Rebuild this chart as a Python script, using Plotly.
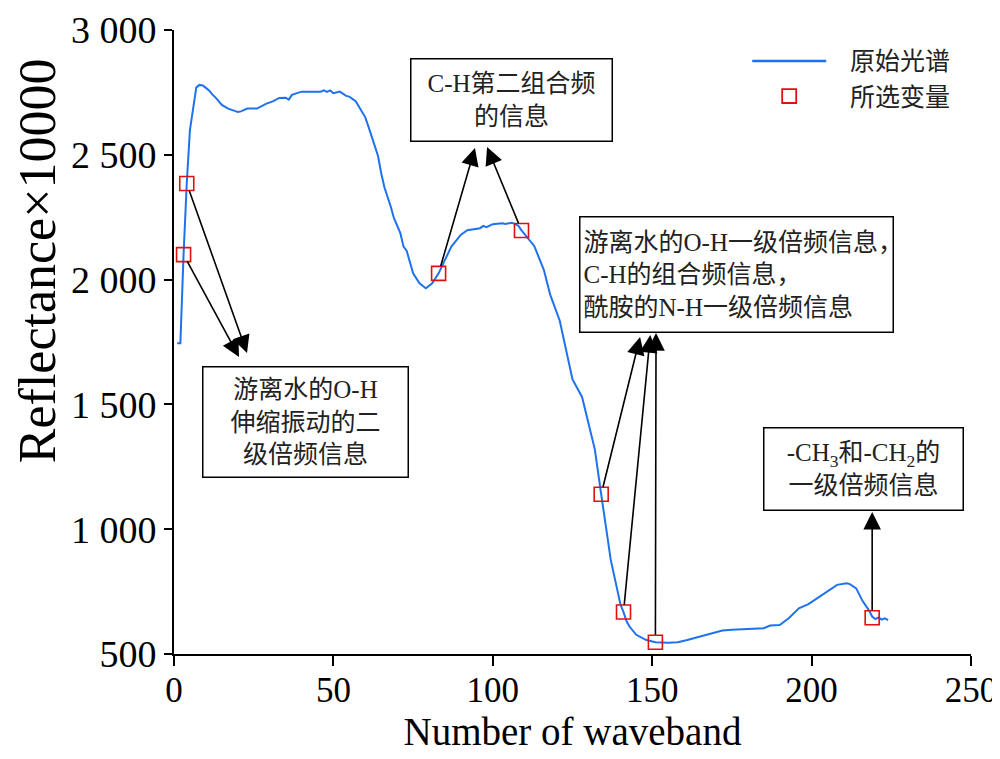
import plotly.graph_objects as go

# ---- data ----
waveband = [1, 2, 3, 4, 5, 6, 7, 8, 9, 10, 11, 12, 13, 15, 17, 19, 20, 21, 22, 23, 26, 29, 31, 33, 35, 36, 37, 40,
            46, 47, 48, 49, 50, 52, 54, 55, 57, 59, 60, 61, 62, 64, 65, 66, 68, 69, 71, 72, 73, 74, 75, 77, 79,
            81, 83, 85, 87, 90, 92, 96, 97, 98, 100, 103, 104, 106, 108, 109, 111, 113, 116, 118, 121, 123, 125,
            128, 130, 132, 134, 136, 137, 139, 140, 141, 142, 143, 145, 148, 151, 155, 158, 161, 165, 168, 172,
            175, 179, 185, 187, 190, 193, 196, 199, 201, 205, 208, 211, 212, 214, 216, 218, 219, 220, 221, 222,
            223, 224]
reflectance = [1745, 1745, 2100, 2385, 2600, 2695, 2770, 2780, 2778, 2768, 2758, 2742, 2730, 2700, 2685, 2676,
               2672, 2674, 2680, 2685, 2685, 2705, 2714, 2728, 2729, 2721, 2740, 2753, 2753, 2758, 2752, 2758,
               2747, 2753, 2736, 2733, 2715, 2670, 2650, 2613, 2575, 2495, 2426, 2370, 2292, 2246, 2186, 2132,
               2115, 2070, 2025, 1985, 1965, 1985, 2025, 2079, 2132, 2180, 2198, 2206, 2215, 2210, 2222, 2226,
               2223, 2228, 2216, 2197, 2168, 2135, 2039, 1940, 1835, 1720, 1600, 1530, 1420, 1320, 1140, 960,
               877, 760, 700, 668, 630, 608, 577, 557, 547, 545, 547, 556, 570, 579, 594, 597, 599, 603, 614,
               616, 645, 683, 700, 717, 753, 777, 783, 780, 763, 712, 675, 650, 640, 647, 638, 643, 636]

selected_band = [3, 4, 83, 109, 134, 141, 151, 219]
selected_value = [2100, 2385, 2025, 2197, 1140, 668, 547, 645]

y_tickvals = [500, 1000, 1500, 2000, 2500, 3000]
y_ticktext = ["500", "1 000", "1 500", "2 000", "2 500", "3 000"]
x_tickvals = [0, 50, 100, 150, 200, 250]

# arrow tips (data coords) for each selected variable, same order as selected_band
arrow_tip_x = [20.4, 22.9, 94.4, 98.2, 146.2, 149.4, 151.2, 219]
arrow_tip_y = [1690, 1706, 2527, 2531, 1770, 1778, 1786, 1069]

legend_names = ["原始光谱", "所选变量"]

FONT = "Liberation Serif, Times New Roman, Noto Sans CJK SC, serif"
LINE_COLOR = "#1f72ee"
MARK_COLOR = "#e01010"

fig = go.Figure()
fig.add_trace(go.Scatter(
    x=waveband, y=reflectance, mode="lines", name=legend_names[0],
    line=dict(color=LINE_COLOR, width=2), showlegend=False,
))
fig.add_trace(go.Scatter(
    x=selected_band, y=selected_value, mode="markers", name=legend_names[1], showlegend=False,
    marker=dict(symbol="square-open", size=14, color=MARK_COLOR, line=dict(width=1.6, color=MARK_COLOR)),
))

annotations = []
for sx, sy, tx, ty in zip(selected_band, selected_value, arrow_tip_x, arrow_tip_y):
    annotations.append(dict(
        x=tx, y=ty, ax=sx, ay=sy, xref="x", yref="y", axref="x", ayref="y",
        text="", showarrow=True, arrowhead=2, arrowsize=2.2, arrowwidth=1.6,
        arrowcolor="black", startstandoff=6, standoff=0,
    ))

box_style = dict(showarrow=False, xref="x", yref="y", bordercolor="black", borderwidth=1.5,
                 bgcolor="white", borderpad=3, font=dict(family=FONT, size=25, color="#222"))
annotations += [
    dict(x=41.4, y=1428, text="游离水的O-H<br>伸缩振动的二<br>级倍频信息",
         width=198, height=103, align="center", **box_style),
    dict(x=105.9, y=2720, text="C-H第二组合频<br>的信息",
         width=194, height=75, align="center", **box_style),
    dict(x=176.3, y=2020, text="游离水的O-H一级倍频信息，<br>C-H的组合频信息，<br>酰胺的N-H一级倍频信息",
         width=306, height=108, align="left", **box_style),
    dict(x=216.2, y=1240, text="-CH<sub>3</sub>和-CH<sub>2</sub>的<br>一级倍频信息",
         width=192, height=75, align="center", **box_style),
]

# legend (drawn to match the reference's long line sample)
annotations += [
    dict(x=0.8458, y=0.9503, xref="paper", yref="paper", text=legend_names[0], showarrow=False,
         xanchor="left", yanchor="middle", font=dict(family=FONT, size=25, color="#222")),
    dict(x=0.8458, y=0.8926, xref="paper", yref="paper", text=legend_names[1], showarrow=False,
         xanchor="left", yanchor="middle", font=dict(family=FONT, size=25, color="#222")),
    # y-axis title (placed like the reference, above centre)
    dict(x=-0.172, y=0.631, xref="paper", yref="paper", text="Reflectance×10000", showarrow=False,
         textangle=-90, xanchor="center", yanchor="middle", font=dict(family=FONT, size=52, color="black")),
]
shapes = [
    dict(type="line", xref="paper", yref="paper", x0=0.7255, x1=0.8184, y0=0.9503, y1=0.9503,
         line=dict(color=LINE_COLOR, width=2.5)),
    dict(type="rect", xref="paper", yref="paper", x0=0.7719 - 0.0088, x1=0.7719 + 0.0088,
         y0=0.8942 - 0.0112, y1=0.8942 + 0.0112, line=dict(color=MARK_COLOR, width=1.8)),
]

fig.update_layout(
    width=992, height=751,
    margin=dict(l=166, r=29, t=22, b=105),
    paper_bgcolor="white", plot_bgcolor="white",
    font=dict(family=FONT, size=36, color="black"),
    showlegend=False,
    annotations=annotations,
    shapes=shapes,
    xaxis=dict(range=[0, 250], tickvals=x_tickvals, showgrid=False, zeroline=False, automargin=False,
               showline=True, linecolor="black", linewidth=2, ticks="outside", ticklen=10,
               tickwidth=2, tickcolor="black", tickfont=dict(family=FONT, size=35),
               ticklabelstandoff=-6,
               title=dict(text="Number of waveband", font=dict(family=FONT, size=39), standoff=0)),
    yaxis=dict(range=[500, 3000], tickvals=y_tickvals, ticktext=y_ticktext, showgrid=False,
               zeroline=False, showline=True, linecolor="black", linewidth=2, ticks="outside",
               automargin=False, ticklen=8, tickwidth=2, tickcolor="black",
               tickfont=dict(family=FONT, size=38)),
)

fig.write_html("out.html")
